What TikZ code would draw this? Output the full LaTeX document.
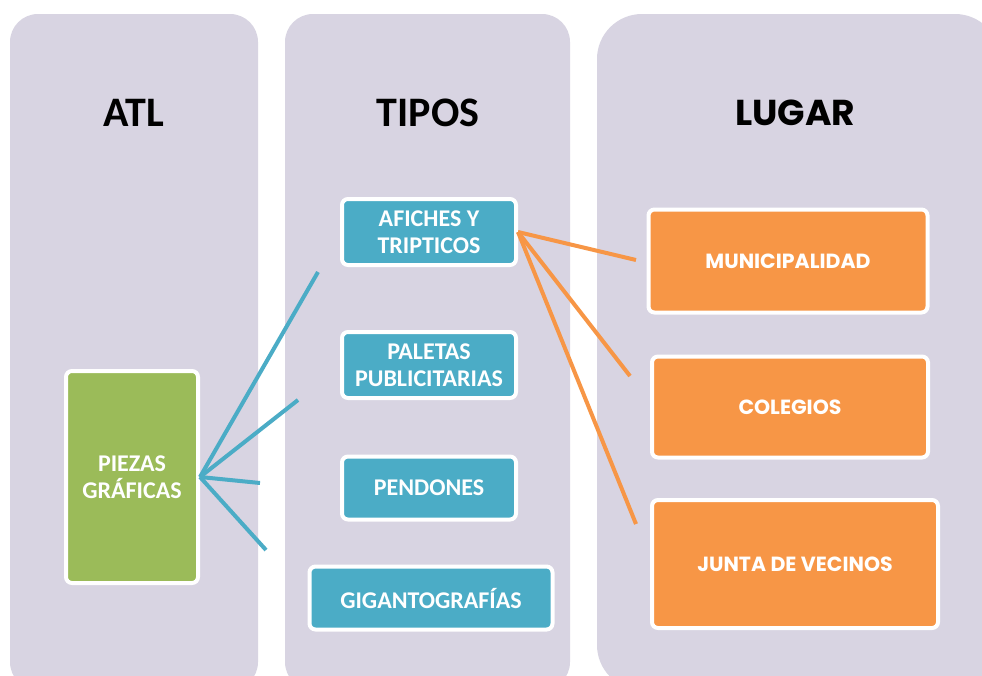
\documentclass[tikz,border=0pt]{standalone}
\usepackage{fontspec}
\setmainfont{Carlito}
\newfontfamily\geofont{Poppins}
\definecolor{colbg}{HTML}{D8D4E2}
\definecolor{tealbox}{HTML}{4BACC6}
\definecolor{greenbox}{HTML}{9BBB59}
\definecolor{orangebox}{HTML}{F79646}
\begin{document}
\begin{tikzpicture}[x=1pt,y=-1pt,
  colpanel/.style={fill=colbg, draw=none},
  title/.style={font=\fontsize{42}{50}\selectfont\bfseries, text=black},
  titlegeo/.style={font=\geofont\fontsize{36}{44}\selectfont\bfseries, text=black},
  box/.style={draw=white, line width=4pt, rounded corners=6pt, text=white, align=center, inner sep=0pt},
  tealnode/.style={box, fill=tealbox, font=\fontsize{24}{27}\selectfont\bfseries},
  greennode/.style={box, fill=greenbox, font=\fontsize{24}{27}\selectfont\bfseries},
  orangenode/.style={box, fill=orangebox, font=\geofont\fontsize{20.5}{24}\selectfont\bfseries},
  tealline/.style={draw=tealbox, line width=4pt},
  orangeline/.style={draw=orangebox, line width=4pt}]
\useasboundingbox (0,0) rectangle (982,675);
\clip (0,0) rectangle (982,675);
\fill[white] (0,0) rectangle (982,675);
% panels
\path[colpanel, rounded corners=28pt] (10,14) rectangle (258,690);
\path[colpanel, rounded corners=28pt] (285,14) rectangle (570,690);
\path[colpanel, rounded corners=45pt] (597,14) rectangle (1000,690);
% titles
\node[title] (tatl) at (134,113) {ATL};
\node[title] (ttipos) at (428,113) {TIPOS};
\node[titlegeo] (tlugar) at (795,113) {LUGAR};
% nodes
\node[greennode, minimum width=132pt, minimum height=212pt] (piezas) at (132,477) {PIEZAS\\GRÁFICAS};
\node[tealnode, minimum width=174pt, minimum height=66pt] (afiches) at (429,232) {AFICHES Y\\TRIPTICOS};
\node[tealnode, minimum width=174pt, minimum height=66pt] (paletas) at (429,365) {PALETAS\\PUBLICITARIAS};
\node[tealnode, minimum width=174pt, minimum height=63pt] (pendones) at (429,488) {PENDONES};
\node[tealnode, minimum width=243pt, minimum height=63pt] (giganto) at (431,598) {GIGANTOGRAFÍAS};
\node[orangenode, minimum width=279pt, minimum height=103pt] (muni) at (788,261) {MUNICIPALIDAD};
\node[orangenode, minimum width=276pt, minimum height=101pt] (colegios) at (790,407) {COLEGIOS};
\node[orangenode, minimum width=286pt, minimum height=128pt] (junta) at (795,564) {JUNTA DE VECINOS};
% free ends
\coordinate (e1) at (318,272);
\coordinate (e2) at (298,400);
\coordinate (e3) at (260,483);
\coordinate (e4) at (266,550);
\coordinate (o1) at (636,260);
\coordinate (o2) at (630,376);
\coordinate (o3) at (636,524);
% connectors
\draw[tealline] (piezas.east) -- (e1);
\draw[tealline] (piezas.east) -- (e2);
\draw[tealline] (piezas.east) -- (e3);
\draw[tealline] (piezas.east) -- (e4);
\draw[orangeline] (afiches.east) -- (o1);
\draw[orangeline] (afiches.east) -- (o2);
\draw[orangeline] (afiches.east) -- (o3);
\end{tikzpicture}
\end{document}
